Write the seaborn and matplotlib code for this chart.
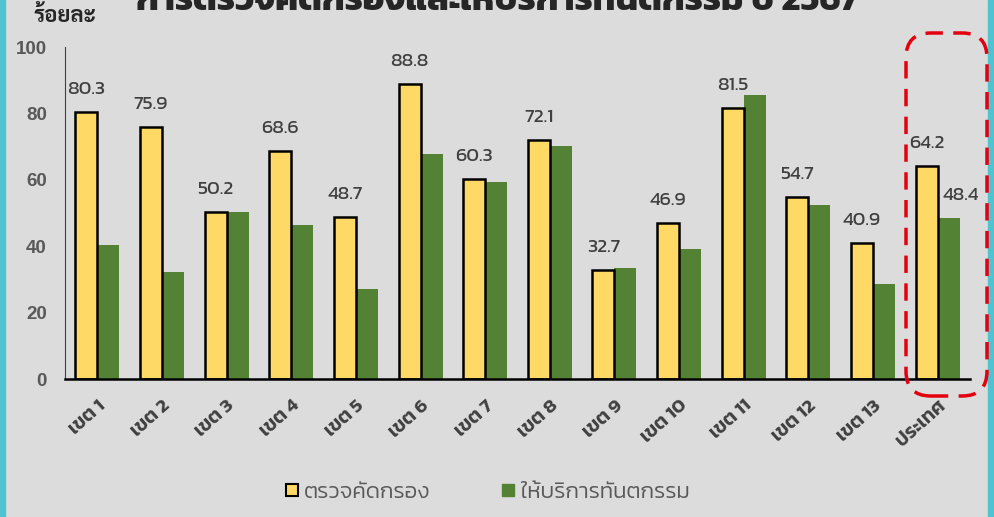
import matplotlib
matplotlib.use("Agg")
import matplotlib.pyplot as plt
import seaborn as sns
import pandas as pd
from matplotlib.patches import FancyBboxPatch, Rectangle
from matplotlib.lines import Line2D

categories = ["เขต 1", "เขต 2", "เขต 3", "เขต 4", "เขต 5", "เขต 6", "เขต 7",
              "เขต 8", "เขต 9", "เขต 10", "เขต 11", "เขต 12", "เขต 13", "ประเทศ"]
screening = [80.3, 75.9, 50.2, 68.6, 48.7, 88.8, 60.3, 72.1, 32.7, 46.9, 81.5, 54.7, 40.9, 64.2]
treatment = [40.5, 32.2, 50.3, 46.4, 27.1, 67.8, 59.3, 70.2, 33.4, 39.2, 85.5, 52.4, 28.6, 48.4]
series_names = ["ตรวจคัดกรอง", "ให้บริการทันตกรรม"]
title_text = "การตรวจคัดกรองและให้บริการทันตกรรม ปี 2567"
ylabel_text = "ร้อยละ"
yticks = [0, 20, 40, 60, 80, 100]

sns.set_theme(style="white")
plt.rcParams["font.family"] = ["Kanit", "DejaVu Sans"]

bg = "#DCDCDC"
fig = plt.figure(figsize=(9.94, 5.17), dpi=100, facecolor=bg)
ax = fig.add_axes([65/994, 1-379/517, (970-65)/994, (379-47)/517])
ax.set_facecolor(bg)

df = pd.DataFrame({
    "cat": categories * 2,
    "val": screening + treatment,
    "series": [series_names[0]] * len(categories) + [series_names[1]] * len(categories),
})
yellow = "#FFD966"
green = "#548235"
sns.barplot(data=df, x="cat", y="val", hue="series", palette=[yellow, green],
            width=0.68, ax=ax, legend=False, saturation=1)
n = len(categories)
for p in ax.patches[:n]:
    p.set_edgecolor("black")
    p.set_linewidth(1.8)
    p.set_zorder(3)
for p in ax.patches[n:2*n]:
    p.set_edgecolor("none")
    p.set_zorder(2)

# value labels on yellow bars
for i, p in enumerate(ax.patches[:n]):
    x = p.get_x() + p.get_width()/2
    ax.text(x, p.get_height() + 6.8, f"{screening[i]:.1f}", ha="center", va="center",
            fontsize=14, color="#404040", fontweight=400)
p = ax.patches[2*n-1]
ax.text(p.get_x() + p.get_width()/2 + 0.19, p.get_height() + 6.8, f"{treatment[-1]:.1f}",
        ha="center", va="center", fontsize=14, color="#404040", fontweight=400)

ax.set_ylim(0, 100)
ax.set_xlim(-0.5, n - 0.5)
ax.set_yticks(yticks)
ax.set_yticklabels([str(t) for t in yticks], fontsize=13.5, fontweight="bold",
                   color="#595959", family=["Liberation Sans Narrow", "Liberation Sans"])
ax.set_xticks(range(n))
ax.set_xticklabels(categories, rotation=42, ha="right", rotation_mode="anchor",
                   fontsize=14, fontweight=600, color="#404040")
ax.tick_params(axis="x", length=0, pad=13)
ax.tick_params(axis="y", length=0, pad=13)
ax.set_xlabel("")
ax.set_ylabel("")
for s in ["top", "right"]:
    ax.spines[s].set_visible(False)
ax.spines["left"].set_color("#404040")
ax.spines["left"].set_linewidth(0.8)
ax.spines["bottom"].set_color("black")
ax.spines["bottom"].set_linewidth(1.8)
ax.spines["bottom"].set_zorder(5)

fig.text(33/994, 1-16/517, ylabel_text, fontsize=16, fontweight="bold", color="#262626",
         va="center", ha="left", family=["Sarabun", "DejaVu Sans"])
fig.text(0.5, 1-2/517, title_text, fontsize=26, fontweight=700, color="#262626",
         va="center", ha="center")

# cyan borders
fig.add_artist(Rectangle((0, 0), 5/994, 1, transform=fig.transFigure, color="#4FC3CF", zorder=0))
fig.add_artist(Rectangle((1-6/994, 0), 6/994, 1, transform=fig.transFigure, color="#4FC3CF", zorder=0))

# red dashed highlight box
fig.add_artist(FancyBboxPatch((906/994, 1-396/517), (987-906)/994, (396-33)/517,
                              boxstyle="round,pad=0,rounding_size=0.025",
                              transform=fig.transFigure, fill=False, edgecolor="#E3000F",
                              linewidth=2.5, linestyle=(0, (5, 3)), mutation_aspect=994/517))

handles = [Line2D([], [], marker="s", linestyle="none", markersize=9, markerfacecolor=yellow,
                  markeredgecolor="black", markeredgewidth=1.5),
           Line2D([], [], marker="s", linestyle="none", markersize=9, markerfacecolor=green,
                  markeredgecolor=green)]
fig.legend(handles, series_names, loc="center", bbox_to_anchor=(485/994, 1-492/517), ncol=2,
           frameon=False, handletextpad=0.05, columnspacing=3.0, handlelength=1.0,
           labelcolor="#595959", prop={"size": 16, "weight": 300})

fig.savefig("out.png", dpi=100, facecolor=bg)
